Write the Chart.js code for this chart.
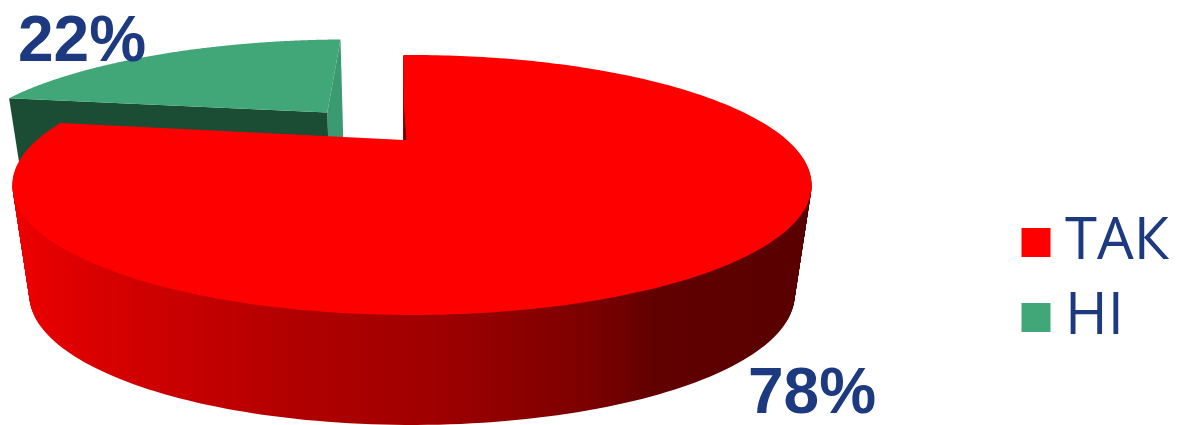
<!DOCTYPE html>
<html>
<head>
<meta charset="utf-8">
<script src="https://cdn.jsdelivr.net/npm/chart.js@4"></script>
<style>
  html, body { margin: 0; padding: 0; background: #fff; overflow: hidden; }
  canvas { display: block; }
</style>
</head>
<body>
<canvas id="pieChart" width="1190" height="425"></canvas>
<script>
const categories = ["ТАК", "НІ"];
const shares = [78, 22];
const sliceColors = ["#ff0000", "#41a678"];

const navy = "#1d3a80";

// perspective of the disc: unit circle to screen, z = 1 is the bottom of the wall
const CX = 412, CY = 185, RY = 130, APEX_DY = -45, TILT = -0.346, RX = 375;
const DEPTH = 110, SHRINK = 0.0425, APEX_U = -0.021;

function project(u, v, z) {
  const den = 1 + TILT * v;
  return {
    x: CX + (RX * u / den) * (1 - SHRINK * z),
    y: CY + (RY * v + APEX_DY) / den + DEPTH * z
  };
}

function tracePoints(ctx, pts) {
  ctx.beginPath();
  pts.forEach((p, i) => (i ? ctx.lineTo(p.x, p.y) : ctx.moveTo(p.x, p.y)));
  ctx.closePath();
}

function wedge(arc, ox, oy, z, apexU) {
  const pts = [project(apexU + ox, oy, z)];
  const steps = 240;
  for (let i = 0; i <= steps; i++) {
    const a = arc.startAngle + (arc.endAngle - arc.startAngle) * i / steps;
    pts.push(project(Math.cos(a) + ox, Math.sin(a) + oy, z));
  }
  return pts;
}

function radialWall(angle, ox, oy, apexU) {
  const edgeU = Math.cos(angle) + ox, edgeV = Math.sin(angle) + oy;
  return [
    project(apexU + ox, oy, 0),
    project(edgeU, edgeV, 0),
    project(edgeU, edgeV, 1),
    project(apexU + ox, oy, 1)
  ];
}

const pie3d = {
  id: "pie3d",
  beforeDatasetDraw(chart, args, opts) {
    const ctx = chart.ctx;
    const arcs = chart.getDatasetMeta(0).data;
    const red = arcs[0], green = arcs[1];

    // pulled out slice goes first, the big one covers it
    const mid = (green.startAngle + green.endAngle) / 2;
    const ox = Math.cos(mid) * opts.pull + opts.nudge, oy = Math.sin(mid) * opts.pull;
    const greenApex = APEX_U + opts.apexShift;
    ctx.fillStyle = "#3c9a70";
    tracePoints(ctx, radialWall(green.endAngle, ox, oy, greenApex));
    ctx.fill();
    ctx.fillStyle = "#1b4d34";
    tracePoints(ctx, radialWall(green.startAngle, ox, oy, greenApex));
    ctx.fill();
    ctx.fillStyle = green.options.backgroundColor;
    tracePoints(ctx, wedge(green, ox, oy, 0, greenApex));
    ctx.fill();

    const sideFill = ctx.createLinearGradient(12, 0, 812, 0);
    sideFill.addColorStop(0, "#ee0000");
    sideFill.addColorStop(0.11, "#d80000");
    sideFill.addColorStop(0.36, "#b00000");
    sideFill.addColorStop(0.52, "#a00000");
    sideFill.addColorStop(0.61, "#900000");
    sideFill.addColorStop(0.735, "#780000");
    sideFill.addColorStop(0.8, "#620000");
    sideFill.addColorStop(1, "#580000");
    ctx.fillStyle = sideFill;
    for (let i = DEPTH; i > 0; i--) {
      tracePoints(ctx, wedge(red, 0, 0, i / DEPTH, APEX_U));
      ctx.fill();
    }
    ctx.fillStyle = red.options.backgroundColor;
    tracePoints(ctx, wedge(red, 0, 0, 0, APEX_U));
    ctx.fill();

    // thin dark edge of the cut, next to the centre
    const cutU = APEX_U + 0.35 * (Math.cos(red.startAngle) - APEX_U);
    const cutV = 0.35 * Math.sin(red.startAngle);
    ctx.fillStyle = "#6a0000";
    tracePoints(ctx, [
      project(APEX_U, 0, 0),
      project(cutU, cutV, 0),
      project(APEX_U + 0.006, 0, 0)
    ]);
    ctx.fill();

    return false;
  },
  afterDraw(chart) {
    const ctx = chart.ctx;
    ctx.save();
    ctx.fillStyle = navy;
    ctx.font = "bold 64px 'Liberation Sans'";
    ctx.textBaseline = "alphabetic";
    ctx.fillText(shares[1] + "%", 18, 61);
    ctx.fillText(shares[0] + "%", 748, 413);
    ctx.restore();
  }
};

new Chart(document.getElementById("pieChart"), {
  type: "pie",
  data: {
    labels: categories,
    datasets: [{
      data: shares,
      backgroundColor: sliceColors,
      borderWidth: 0
    }]
  },
  options: {
    responsive: false,
    animation: false,
    rotation: -1.8,
    layout: { padding: { top: 135, right: 11 } },
    plugins: {
      pie3d: { pull: 0.35, nudge: -0.011, apexShift: 0.017 },
      tooltip: { enabled: false },
      legend: {
        position: "right",
        labels: {
          usePointStyle: true,
          pointStyle: "rect",
          boxWidth: 0.01,
          boxHeight: 29,
          padding: 17,
          color: navy,
          font: { family: "'Open Sans'", size: 58 }
        }
      }
    }
  },
  plugins: [pie3d]
});
</script>
</body>
</html>
